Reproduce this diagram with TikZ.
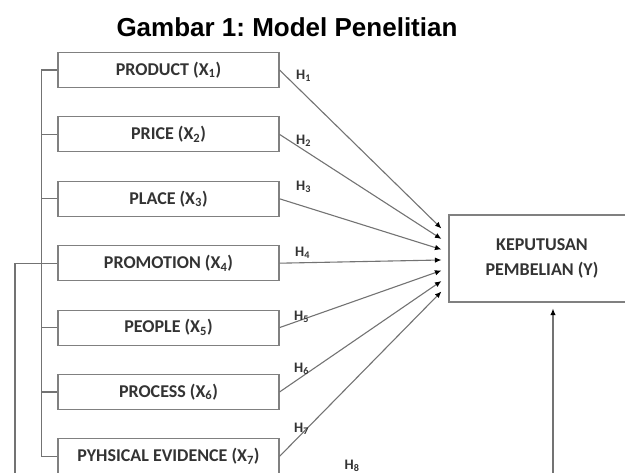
\documentclass[tikz,border=0pt]{standalone}
\usepackage{fontspec}
\setmainfont{Carlito}
\newfontfamily\titlefont{Liberation Sans}
\usetikzlibrary{arrows.meta,positioning}

\begin{document}
\begin{tikzpicture}[
    x=1pt, y=1pt,
    node distance=28.3pt,
    varbox/.style={rectangle, draw=black!50, line width=1.1pt, minimum width=221pt, minimum height=35pt, inner sep=0pt, text=black!80, font=\bfseries\fontsize{18}{20}\selectfont},
    ybox/.style={rectangle, draw=black!50, line width=1.1pt, minimum width=186pt, minimum height=87pt, inner sep=0pt, align=center, text=black!80, font=\bfseries\fontsize{18}{25}\selectfont},
    hlabel/.style={inner sep=0pt, text=black!80, font=\bfseries\fontsize{14.5}{16}\selectfont},
    link/.style={draw=black!55, line width=1.1pt},
    arrow/.style={-{Latex[length=6.5pt, width=5.5pt, color=black]}, draw=black!55, line width=1.1pt}
]
    \useasboundingbox (0,0) rectangle (625,473);

    % Title
    \node (title) [anchor=base, font=\titlefont\bfseries\fontsize{26}{30}\selectfont] at (287,436) {Gambar 1:\ Model Penelitian};

    % Nodes (Independent Variables)
    \node (product) [varbox] at (168.5,403) {PRODUCT (X\textsubscript{1})};
    \node (price) [varbox, below=of product] {PRICE (X\textsubscript{2})};
    \node (place) [varbox, below=of price] {PLACE (X\textsubscript{3})};
    \node (promotion) [varbox, below=of place] {PROMOTION (X\textsubscript{4})};
    \node (people) [varbox, below=of promotion] {PEOPLE (X\textsubscript{5})};
    \node (process) [varbox, below=of people] {PROCESS (X\textsubscript{6})};
    \node (evidence) [varbox, below=of process] {PYHSICAL EVIDENCE (X\textsubscript{7})};

    % Dependent Variable
    \node (keputusan) [ybox] at (542,214.5) {KEPUTUSAN\\PEMBELIAN (Y)};

    % Bracket joining the variables
    \draw [link] ([xshift=-16pt]product.west) -- ([xshift=-16pt]evidence.west);
    \draw [link] (product.west) -- ++(-16pt,0);
    \draw [link] (price.west) -- ++(-16pt,0);
    \draw [link] (place.west) -- ++(-16pt,0);
    \draw [link] (promotion.west) -- ++(-16pt,0);
    \draw [link] (people.west) -- ++(-16pt,0);
    \draw [link] (process.west) -- ++(-16pt,0);
    \draw [link] (evidence.west) -- ++(-16pt,0);

    % Arrows
    \draw [arrow] (product.east) -- ([shift={(-7pt,30pt)}]keputusan.west);
    \draw [arrow] (price.east) -- ([shift={(-7pt,19.5pt)}]keputusan.west);
    \draw [arrow] (place.east) -- ([shift={(-7pt,9pt)}]keputusan.west);
    \draw [arrow] (promotion.east) -- ([shift={(-7pt,-1.5pt)}]keputusan.west);
    \draw [arrow] (people.east) -- ([shift={(-7pt,-12pt)}]keputusan.west);
    \draw [arrow] (process.east) -- ([shift={(-7pt,-22.5pt)}]keputusan.west);
    \draw [arrow] (evidence.east) -- ([shift={(-7pt,-33pt)}]keputusan.west);

    % Simultaneous path
    \coordinate (hub) at ([xshift=-16pt]promotion.west);
    \coordinate (corner) at (15,-5);
    \draw [arrow, shorten >=6pt] (hub) -| (corner) -| ([xshift=11pt]keputusan.south);

    % Hypothesis labels
    \node (h1) [hlabel] at ([shift={(24pt,-6pt)}]product.east) {H\textsubscript{1}};
    \node (h2) [hlabel] at ([shift={(24pt,-6pt)}]price.east) {H\textsubscript{2}};
    \node (h3) [hlabel] at ([shift={(24pt,12pt)}]place.east) {H\textsubscript{3}};
    \node (h4) [hlabel] at ([shift={(23pt,10pt)}]promotion.east) {H\textsubscript{4}};
    \node (h5) [hlabel] at ([shift={(22pt,11pt)}]people.east) {H\textsubscript{5}};
    \node (h6) [hlabel] at ([shift={(22pt,23pt)}]process.east) {H\textsubscript{6}};
    \node (h7) [hlabel] at ([shift={(22pt,28pt)}]evidence.east) {H\textsubscript{7}};
    \node (h8) [hlabel] at (352,7) {H\textsubscript{8}};
\end{tikzpicture}
\end{document}
